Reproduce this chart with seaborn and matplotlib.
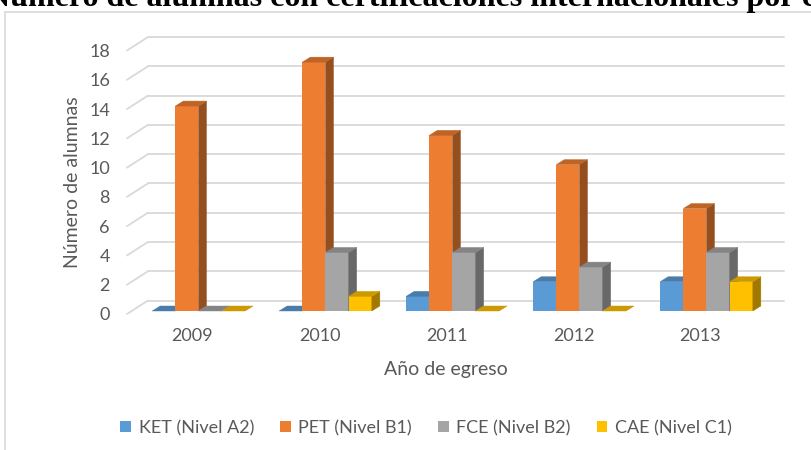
import matplotlib
matplotlib.use("Agg")
import matplotlib.pyplot as plt
import matplotlib.transforms as mtransforms
from matplotlib.patches import Polygon, Patch
from matplotlib.lines import Line2D
import matplotlib.colors as mcolors
import seaborn as sns
import pandas as pd

years = ["2009", "2010", "2011", "2012", "2013"]
series = ["KET (Nivel A2)", "PET (Nivel B1)", "FCE (Nivel B2)", "CAE (Nivel C1)"]
ket = [0, 0, 1, 2, 2]
pet = [14, 17, 12, 10, 7]
fce = [0, 4, 4, 3, 4]
cae = [0, 1, 0, 0, 2]
colors = ["#5B9BD5", "#ED7D31", "#A5A5A5", "#FFC000"]
yticks = [0, 2, 4, 6, 8, 10, 12, 14, 16, 18]
title = "Número de alumnas con certificaciones internacionales por cohorte"

rows = []
for name, vals in zip(series, [ket, pet, fce, cae]):
    for y, v in zip(years, vals):
        rows.append({"Año": y, "Serie": name, "Valor": v})
df = pd.DataFrame(rows)

sns.set_theme(style="white")
plt.rcParams["font.family"] = ["Lato", "DejaVu Sans"]

W, H = 812, 450
fig = plt.figure(figsize=(W / 100, H / 100), dpi=100)
fig.patch.set_facecolor("white")
ax = fig.add_axes([135 / W, 139 / H, 635 / W, 263.5 / H])
ax.set_facecolor("none")

sns.barplot(data=df, x="Año", y="Valor", hue="Serie", hue_order=series,
            order=years, palette=colors, width=0.73, saturation=1,
            edgecolor="none", linewidth=0, legend=False, ax=ax)
ax.set_xlim(-0.5, 4.5)
ax.set_ylim(0, 18)
for s in ax.spines.values():
    s.set_visible(False)
ax.set_xlabel("")
ax.set_ylabel("")
ax.set_yticks(yticks)
ax.tick_params(axis="y", length=0, pad=18, labelsize=13, labelcolor="#595959")
ax.tick_params(axis="x", length=0, pad=12, labelsize=13, labelcolor="#595959")
for lab in ax.get_yticklabels():
    lab.set_transform(lab.get_transform() +
                      mtransforms.ScaledTranslation(0, -3 / 100, fig.dpi_scale_trans))
for lab in ax.get_xticklabels():
    lab.set_transform(lab.get_transform() +
                      mtransforms.ScaledTranslation(-6 / 100, 0, fig.dpi_scale_trans))

ident = mtransforms.IdentityTransform()
grid_c = "#d9d9d9"
axl = ax.transAxes.transform((0, 0))[0]
axr = ax.transAxes.transform((1, 0))[0]
for v in yticks:
    yb = ax.transData.transform((0, v))[1]
    ax.add_line(Line2D([axl + 13, axr + 14], [yb + 10.5, yb + 10.5], color=grid_c,
                       lw=1.3, transform=ident, zorder=0.5, clip_on=False))
    ax.add_line(Line2D([axl - 8, axl + 13], [yb - 3, yb + 10.5], color=grid_c,
                       lw=1.3, transform=ident, zorder=0.5, clip_on=False))

dx, dy = 8, 5
for i, cont in enumerate(ax.containers):
    base = mcolors.to_rgb(colors[i])
    top_c = tuple(c * 0.8 for c in base)
    side_c = tuple(c * 0.63 for c in base)
    for p in cont.patches:
        p.set_zorder(2 + i)
        x0, w, h = p.get_x(), p.get_width(), p.get_height()
        X0, Y0 = ax.transData.transform((x0, 0))
        X1, Y1 = ax.transData.transform((x0 + w, h))
        side = Polygon([(X1, Y0), (X1, Y1), (X1 + dx, Y1 + dy), (X1 + dx, Y0 + dy)],
                       closed=True, facecolor=side_c, edgecolor=side_c, lw=0.3,
                       transform=ident, zorder=2.5 + i, clip_on=False)
        top = Polygon([(X0, Y1), (X1, Y1), (X1 + dx, Y1 + dy), (X0 + dx, Y1 + dy)],
                      closed=True, facecolor=top_c, edgecolor=top_c, lw=0.3,
                      transform=ident, zorder=2.6 + i, clip_on=False)
        ax.add_patch(side)
        ax.add_patch(top)

fig.text(73 / W, 1 - 182 / H, "Número de alumnas", rotation=90, ha="center",
         va="center", fontsize=14, color="#595959")
fig.text(446 / W, 1 - 370 / H, "Año de egreso", ha="center", va="center",
         fontsize=14, color="#595959")

handles = [Patch(facecolor=c, edgecolor="none") for c in colors]
leg = fig.legend(handles, series, loc="center", bbox_to_anchor=(426 / W, 1 - 428 / H),
                 ncol=4, frameon=False, handlelength=0.6, handleheight=0.6,
                 handletextpad=0.4, columnspacing=1.45, fontsize=13)
for t in leg.get_texts():
    t.set_color("#595959")

# chart border
fig.add_artist(Line2D([5 / W, 5 / W], [0, 1 - 12 / H], color=grid_c, lw=1.2,
                      transform=fig.transFigure))
fig.add_artist(Line2D([5 / W, 1], [1 - 12 / H, 1 - 12 / H], color=grid_c, lw=1.2,
                      transform=fig.transFigure))

# title, sized so that "... por " ends near the right edge
prefix = "Número de alumnas con certificaciones internacionales por "
probe = fig.text(0, 0, prefix, fontfamily="Liberation Serif", fontweight="bold", fontsize=20)
r = fig.canvas.get_renderer()
pw = probe.get_window_extent(r).width
probe.remove()
fs = 20 * 813 / pw
fig.text(-13 / W, 1 - 6 / H, title, fontfamily="Liberation Serif", fontweight="bold",
         fontsize=fs, va="baseline", ha="left", color="black")

fig.savefig("out.png", dpi=100)
